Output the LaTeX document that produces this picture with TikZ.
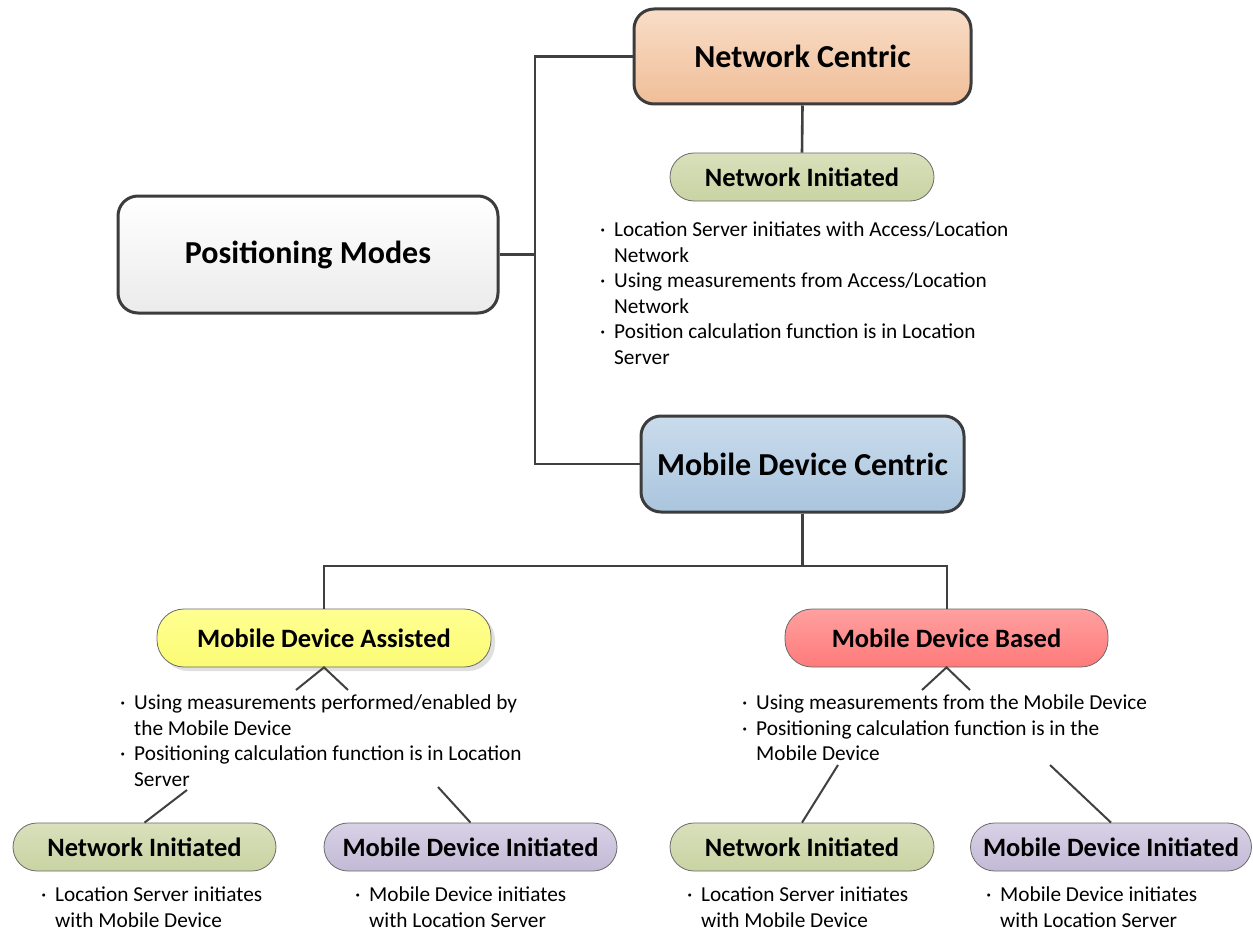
\documentclass[tikz,border=0pt]{standalone}
\usepackage{fontspec}
\setmainfont{Carlito}
\usetikzlibrary{positioning}

\definecolor{linegray}{HTML}{404040}
\definecolor{boxedge}{HTML}{3C3C3C}
\definecolor{pilledge}{HTML}{6A6A6A}
\definecolor{ncTop}{HTML}{F9DDC8}
\definecolor{ncBot}{HTML}{F0BE98}
\definecolor{pmTop}{HTML}{FFFFFF}
\definecolor{pmBot}{HTML}{EBEBEB}
\definecolor{mdcTop}{HTML}{CADCEC}
\definecolor{mdcBot}{HTML}{AAC5DE}
\definecolor{niTop}{HTML}{D9E0BC}
\definecolor{niBot}{HTML}{C9D3A2}
\definecolor{mdaTop}{HTML}{FFFF92}
\definecolor{mdaBot}{HTML}{FBFB74}
\definecolor{mdbTop}{HTML}{FFA0A0}
\definecolor{mdbBot}{HTML}{FF7A7A}
\definecolor{mdiTop}{HTML}{D8D1E6}
\definecolor{mdiBot}{HTML}{C3B9D6}

\newcommand\bul{\makebox[14pt][l]{\textperiodcentered}}
\newcommand\ind{\hspace*{14pt}}

\begin{document}
\begin{tikzpicture}[x=1pt,y=-1pt,
  line/.style={draw=linegray, line width=2.6pt},
  thinline/.style={draw=linegray, line width=2pt},
  bigbox/.style={draw=boxedge, line width=3pt, rounded corners=20pt, inner sep=0pt,
    font=\fontsize{32}{36}\bfseries\selectfont},
  pill/.style={draw=pilledge, line width=0.8pt, rounded corners=24pt, inner sep=0pt,
    minimum height=48pt, font=\fontsize{26.5}{30}\bfseries\selectfont},
  bigpill/.style={pill, minimum height=58pt, rounded corners=27pt},
  nipill/.style={pill, top color=niTop, bottom color=niBot},
  mdipill/.style={pill, top color=mdiTop, bottom color=mdiBot},
  desc/.style={anchor=north west, inner sep=0pt, align=left,
    font=\fontsize{21.3}{25.5}\selectfont}]

\useasboundingbox (0,0) rectangle (1253,931);

% main boxes
\node[bigbox, top color=ncTop, bottom color=ncBot, minimum width=337pt, minimum height=95pt]
  (nc) at (802.5,56.5) {Network Centric};
\node[bigbox, top color=pmTop, bottom color=pmBot, minimum width=380pt, minimum height=117pt]
  (pm) at (308,254.5) {Positioning Modes};
\node[bigbox, top color=mdcTop, bottom color=mdcBot, minimum width=323pt, minimum height=96pt]
  (mdc) at (802.5,464) {Mobile Device Centric};

% second level
\node[nipill, minimum width=264pt] (ni1) at (802,177) {Network Initiated};
\fill[black!12, rounded corners=27pt] (161,613) rectangle (495,671);
\node[bigpill, top color=mdaTop, bottom color=mdaBot, minimum width=334pt]
  (mda) at (324,638) {Mobile Device Assisted};
\node[bigpill, top color=mdbTop, bottom color=mdbBot, minimum width=323pt]
  (mdb) at (946.5,638) {Mobile Device Based};

% third level
\node[nipill, minimum width=263pt] (nil) at (144.5,847) {Network Initiated};
\node[mdipill, minimum width=293pt] (mdil) at (470.5,847) {Mobile Device Initiated};
\node[nipill, minimum width=264pt] (nir) at (802,847) {Network Initiated};
\node[mdipill, minimum width=281pt] (mdir) at (1111,847) {Mobile Device Initiated};

% tree connectors
\coordinate (trunkTop) at (535,56.5);
\coordinate (trunkMid) at (535,254.5);
\coordinate (trunkBot) at (535,464);
\draw[line] (nc.west) -- (trunkTop) -- (trunkBot) -- (mdc.west);
\draw[line] (pm.east) -- (trunkMid);
\draw[line] (nc.south) -- (ni1.north);
\coordinate (split) at (802.5,566);
\draw[line] (mdc.south) -- (split);
\draw[thinline] (mda.north) |- (split) -| (mdb.north);

% splayed stubs under the second level
\coordinate (mdaL) at (296,690);
\coordinate (mdaR) at (348,690);
\draw[thinline] (mdaL) -- (mda.south) -- (mdaR);
\coordinate (mdbL) at (922,690);
\coordinate (mdbR) at (970,690);
\draw[thinline] (mdbL) -- (mdb.south) -- (mdbR);

% links down to the third level
\coordinate (mdaOutL) at (187,790);
\coordinate (mdaOutR) at (438,787);
\draw[thinline] (mdaOutL) -- (nil.north);
\draw[thinline] (mdaOutR) -- (mdil.north);
\coordinate (mdbOutL) at (838,765);
\coordinate (mdbOutR) at (1050,765);
\draw[thinline] (mdbOutL) -- (nir.north);
\draw[thinline] (mdbOutR) -- (mdir.north);

% descriptions
\node[desc] (ncText) at (600,222) {\bul Location Server initiates with Access/Location\\
  \ind Network\\
  \bul Using measurements from Access/Location\\
  \ind Network\\
  \bul Position calculation function is in Location\\
  \ind Server};
\node[desc] (mdaText) at (120,695) {\bul Using measurements performed/enabled by\\
  \ind the Mobile Device\\
  \bul Positioning calculation function is in Location\\
  \ind Server};
\node[desc] (mdbText) at (742,695) {\bul Using measurements from the Mobile Device\\
  \bul Positioning calculation function is in the\\
  \ind Mobile Device};
\node[desc] (nilText) at (41,887) {\bul Location Server initiates\\
  \ind with Mobile Device};
\node[desc] (mdilText) at (355,887) {\bul Mobile Device initiates\\
  \ind with Location Server};
\node[desc] (nirText) at (687,887) {\bul Location Server initiates\\
  \ind with Mobile Device};
\node[desc] (mdirText) at (986,887) {\bul Mobile Device initiates\\
  \ind with Location Server};
\end{tikzpicture}
\end{document}
